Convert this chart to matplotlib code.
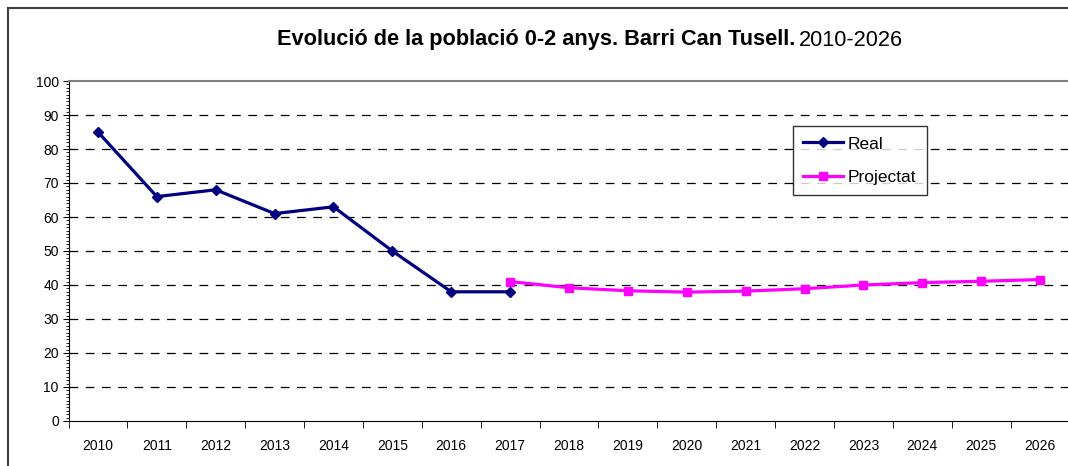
import numpy as np
import matplotlib.pyplot as plt
from matplotlib.lines import Line2D
from matplotlib.ticker import MultipleLocator, FixedLocator

plt.rcParams['font.family'] = ['Liberation Sans', 'DejaVu Sans']

years = [str(y) for y in range(2010, 2027)]
real_years = years[:8]
real = [85, 66, 68, 61, 63, 50, 38, 38]
proj_years = years[7:]
proj = [41, 39.2, 38.3, 37.9, 38.2, 38.9, 40, 40.7, 41.1, 41.6]

fig = plt.figure(figsize=(10.68, 4.66), dpi=100)

# chart border (only left and top visible in the crop)
fig.add_artist(Line2D([8/1068, 8/1068], [0, 1 - 8/466], transform=fig.transFigure,
                      color='#404040', lw=1.5))
fig.add_artist(Line2D([8/1068, 1], [1 - 8/466, 1 - 8/466], transform=fig.transFigure,
                      color='#404040', lw=1.5))

ax = fig.add_axes([68.5/1068, 45/466, 1001/1068, 340/466])

xr = [years.index(y) for y in real_years]
xp = [years.index(y) for y in proj_years]
ax.plot(xr, real, color='#000080', lw=2.3, marker='D', ms=5.5, label='Real', zorder=3)
ax.plot(xp, proj, color='#FF00FF', lw=2.3, marker='s', ms=5.5, label='Projectat', zorder=3)

ax.set_xlim(-0.5, len(years) - 0.5)
ax.set_ylim(0, 100)
ax.set_xticks(range(len(years)))
ax.set_xticklabels(years, fontsize=10)
ax.xaxis.set_minor_locator(FixedLocator(np.arange(-0.5, len(years), 1)))
ax.tick_params(axis='x', which='major', length=0, pad=13)
ax.tick_params(axis='x', which='minor', length=5, direction='out', color='black')

ax.yaxis.set_major_locator(MultipleLocator(10))
ax.yaxis.set_minor_locator(MultipleLocator(1))
ax.tick_params(axis='y', which='major', length=4, labelsize=10, pad=3)
ax.tick_params(axis='y', which='minor', length=2)

for v in range(10, 100, 10):
    ax.axhline(v, color='black', lw=0.9, ls=(0, (7, 6)), zorder=1)

ax.spines['left'].set_color('black')
ax.spines['bottom'].set_color('black')
ax.spines['top'].set_color('#808080')
ax.spines['top'].set_linewidth(1.5)
ax.spines['right'].set_visible(False)

leg = ax.legend(loc='upper left', bbox_to_anchor=((793 - 68.5) / 1001, (421 - 126) / 340),
                fontsize=12.5, frameon=True, fancybox=False, borderpad=0.6,
                handlelength=2.3, handletextpad=0.25, labelspacing=1.05, borderaxespad=0)
leg.get_frame().set_edgecolor('black')
leg.get_frame().set_linewidth(1.0)

# title: bold part + normal part
t1 = fig.text(277/1068, 1 - 40/466, 'Evolució de la població 0-2 anys. Barri Can Tusell.',
              fontsize=15.7, fontweight='bold', ha='left', va='center')
fig.canvas.draw()
bb = t1.get_window_extent()
fig.text(bb.x1 / 1068 + 4/1068, 1 - 40/466, '2010-2026', fontsize=15.7, ha='left', va='center')

fig.savefig('out.png', dpi=100)
